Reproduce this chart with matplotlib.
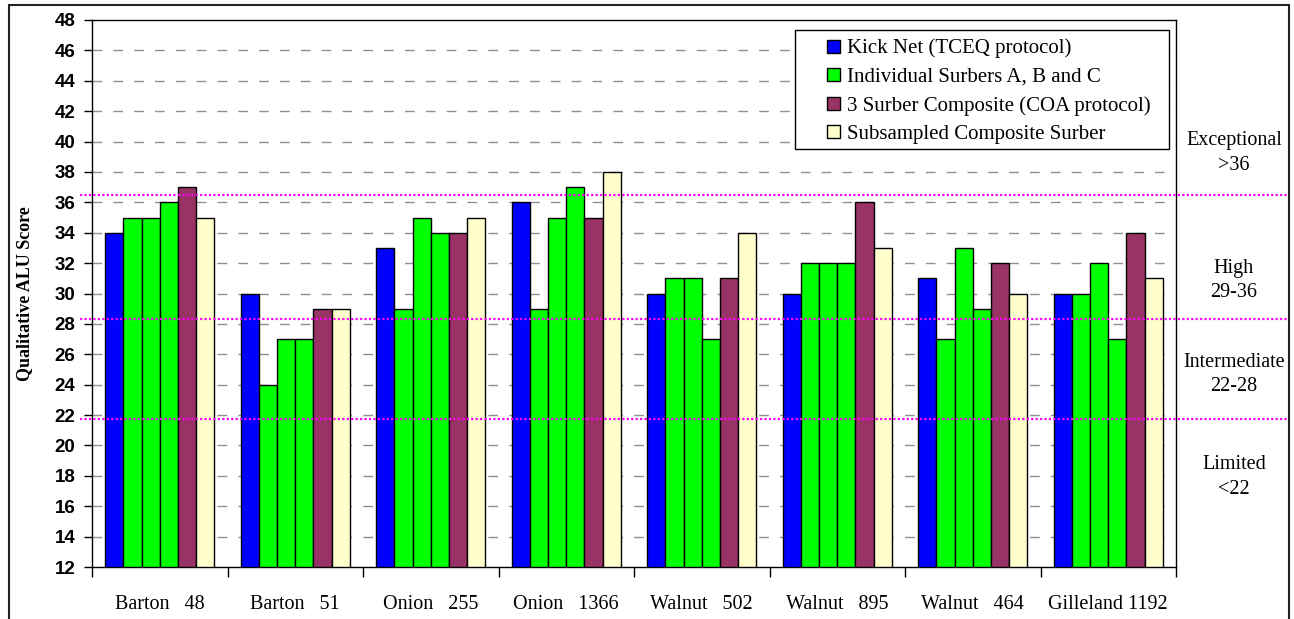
import matplotlib
matplotlib.use("Agg")
import matplotlib.pyplot as plt
import matplotlib.transforms as mtransforms
from matplotlib.patches import Rectangle, Patch
from matplotlib.legend_handler import HandlerPatch
import numpy as np

sites = ["Barton   48", "Barton   51", "Onion   255", "Onion   1366",
         "Walnut   502", "Walnut   895", "Walnut   464", "Gilleland 1192"]
kick_net = [34, 30, 33, 36, 30, 30, 31, 30]
surber_a = [35, 24, 29, 29, 31, 32, 27, 30]
surber_b = [35, 27, 35, 35, 31, 32, 33, 32]
surber_c = [36, 27, 34, 37, 27, 32, 29, 27]
composite = [37, 29, 34, 35, 31, 36, 32, 34]
subsampled = [35, 29, 35, 38, 34, 33, 30, 31]
yticks = list(range(12, 49, 2))
thresholds = [36.5, 28.3, 21.75]
rule_labels = ["Exceptional\n>36", "High\n29-36", "Intermediate\n22-28", "Limited\n<22"]
legend_labels = ["Kick Net (TCEQ protocol)", "Individual Surbers A, B and C",
                 "3 Surber Composite (COA protocol)", "Subsampled Composite Surber"]

c_blue, c_green, c_maroon, c_yellow = "#0000FF", "#00FF00", "#993366", "#FFFFCC"

W, H = 1294, 619
fig = plt.figure(figsize=(W / 100, H / 100), dpi=100)
ax = fig.add_axes([92 / W, 1 - 567 / H, (1176 - 92) / W, (567 - 20) / H])

series = [(kick_net, c_blue), (surber_a, c_green), (surber_b, c_green),
          (surber_c, c_green), (composite, c_maroon), (subsampled, c_yellow)]
bw = 0.134
x = np.arange(len(sites))
for j, (vals, col) in enumerate(series):
    ax.bar(x + (j - 2.5) * bw, np.array(vals) - 12, bottom=12, width=bw,
           color=col, edgecolor="black", linewidth=1.0, zorder=3)

ax.set_ylim(12, 48)
ax.set_xlim(-0.5, len(sites) - 0.5)
ax.set_yticks(yticks)
ax.set_yticklabels([str(t) for t in yticks], fontfamily="Liberation Sans",
                   fontweight="bold", fontsize=13.5)
ax.tick_params(axis="y", direction="out", length=6, width=1, pad=6)
ax.set_xticks(np.arange(len(sites) + 1) - 0.5)
ax.set_xticklabels([])
ax.set_xticks(x, minor=True)
ax.set_xticklabels(sites, minor=True, fontfamily="Liberation Serif", fontsize=14.5)
ax.tick_params(axis="x", which="major", direction="out", length=7, width=1)
ax.tick_params(axis="x", which="minor", length=0, pad=20)
for s in ax.spines.values():
    s.set_linewidth(1.0)
    s.set_color("black")

for t in yticks[1:-1]:
    ax.axhline(t, color="#909090", linestyle=(0, (7, 8)), linewidth=1.0, zorder=1)

ax.set_ylabel("Qualitative ALU Score", fontfamily="Liberation Serif",
              fontweight="bold", fontsize=13)
ax.yaxis.set_label_coords(-59 / (1176 - 92), 0.5)

blend = mtransforms.blended_transform_factory(fig.transFigure, ax.transData)
for yv in thresholds:
    ax.plot([80 / W, 1289 / W], [yv, yv], transform=blend, color="#FF00FF",
            linestyle=(0, (1, 1)), linewidth=1.6, clip_on=False, zorder=6)

# rule labels on right
rule_y = [153, 280.5, 374.5, 477]
for lab, yy in zip(rule_labels, rule_y):
    fig.text(1234 / W, 1 - yy / H, lab, ha="center", va="center",
             fontfamily="Liberation Serif", fontsize=14.5, linespacing=1.4)

# outer border
fig.patches.append(Rectangle((9 / W, -0.05), (1289 - 9) / W, 1.05 - 5 / H,
                             transform=fig.transFigure, fill=False,
                             edgecolor="#222222", linewidth=1.5))

# legend frame
ax.add_patch(Rectangle((795 / W, 1 - 149 / H), (1169 - 795) / W, (149 - 30) / H,
                       transform=fig.transFigure, facecolor="white",
                       edgecolor="black", linewidth=1.0, clip_on=False, zorder=7))


def make_square(legend, orig_handle, xdescent, ydescent, width, height, fontsize):
    s = 13 / 100 * 72
    return Rectangle((width - s - xdescent, height / 2 - s / 2 - ydescent), s, s)


handles = [Patch(facecolor=c, edgecolor="black", linewidth=1.0)
           for c in [c_blue, c_green, c_maroon, c_yellow]]
leg = ax.legend(handles, legend_labels, loc="upper left",
                bbox_to_anchor=(792 / W, 1 - 22 / H),
                bbox_transform=fig.transFigure, frameon=False,
                prop={"family": "Liberation Serif", "size": 15},
                handlelength=1.5, handleheight=0.7, handletextpad=0.33,
                labelspacing=0.43, borderpad=0.3,
                handler_map={Patch: HandlerPatch(patch_func=make_square)})
leg.set_zorder(8)

fig.savefig("out.png", dpi=100)
